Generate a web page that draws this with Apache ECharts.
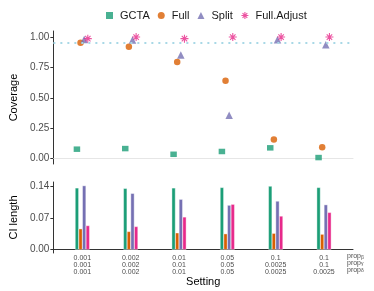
<!DOCTYPE html>
<html><head><meta charset="utf-8">
<script src="https://cdn.jsdelivr.net/npm/echarts@6/dist/echarts.min.js"></script>
<style>html,body{margin:0;padding:0;background:#fff}#c{width:374px;height:291px}</style>
</head><body><div id="c"></div>
<script>
// ---- data ----
const settings = [1, 2, 3, 4, 5, 6];
const propBeta  = ['0.001', '0.002', '0.01', '0.05', '0.1', '0.1'];
const propGamma = ['0.001', '0.002', '0.01', '0.05', '0.0025', '0.1'];
const propDelta = ['0.001', '0.002', '0.01', '0.05', '0.0025', '0.0025'];
const methods = ['GCTA', 'Full', 'Split', 'Full.Adjust'];
const coverageGCTA  = [0.077, 0.082, 0.035, 0.058, 0.088, 0.008];
const coverageFull  = [0.954, 0.921, 0.794, 0.640, 0.157, 0.093];
const coverageSplit = [0.981, 0.975, 0.852, 0.357, 0.978, 0.937];
const coverageFullAdjust = [0.987, 1.000, 0.987, 1.000, 1.000, 1.000];
const ciGCTA  = [0.136, 0.135, 0.136, 0.137, 0.140, 0.137];
const ciFull  = [0.046, 0.040, 0.037, 0.035, 0.036, 0.034];
const ciSplit = [0.141, 0.124, 0.111, 0.098, 0.107, 0.099];
const ciFullAdjust = [0.053, 0.051, 0.072, 0.100, 0.074, 0.082];
const nominal = 0.95;
const coverageTicks = [0, 0.25, 0.5, 0.75, 1];
const ciTicks = [0, 0.07, 0.14];

const colors = ['#1B9E77', '#D95F02', '#7570B3', '#E7298A'];
const starPath = 'path://M5,0L5,10M0,5L10,5M1.6,1.6L8.4,8.4M1.6,8.4L8.4,1.6';
const dodgeWidth = 0.3;
const offsets = methods.map((m, i) => -dodgeWidth / 2 + dodgeWidth / 8 + i * dodgeWidth / 4);
const covData = [coverageGCTA, coverageFull, coverageSplit, coverageFullAdjust];
const ciData = [ciGCTA, ciFull, ciSplit, ciFullAdjust];
const symbols = ['rect', 'circle', 'triangle', starPath];
const symSizes = [[6.5, 5.5], 6.5, 7.5, 8];

const axisDark = '#333333';
const labGrey = '#4d4d4d';

const series = [];
methods.forEach((m, i) => {
  const isStar = i === 3;
  series.push({
    name: m, type: 'scatter', xAxisIndex: 0, yAxisIndex: 0,
    symbol: symbols[i], symbolSize: symSizes[i],
    itemStyle: isStar ? {color: 'rgba(0,0,0,0)', borderColor: colors[i], borderWidth: 1.1} : {color: colors[i]},
    data: settings.map((s, k) => [s + offsets[i], covData[i][k]]),
    z: 3,
    markLine: i === 0 ? {
      silent: true, symbol: 'none', label: {show: false},
      lineStyle: {color: '#a8d8e6', type: [2, 5], width: 2.2, cap: 'butt'},
      data: [{yAxis: nominal}]
    } : undefined
  });
});
methods.forEach((m, i) => {
  series.push({
    name: m, type: 'bar', xAxisIndex: 1, yAxisIndex: 1,
    barWidth: 3.7, barGap: '-100%',
    itemStyle: {color: colors[i], borderColor: '#ffffff', borderWidth: 0.4},
    data: settings.map((s, k) => [s + offsets[i], ciData[i][k]])
  });
});

const chart = echarts.init(document.getElementById('c'), null, {renderer: 'canvas'});
chart.setOption({
  animation: false,
  textStyle: {fontFamily: 'Liberation Sans, Arial, sans-serif'},
  legend: {
    top: 10, left: 106, itemWidth: 7, itemHeight: 7, itemGap: 8, padding: 0,
    textStyle: {fontSize: 11, color: '#1a1a1a', padding: [0, 0, 0, 2]},
    data: [
      {name: 'GCTA', icon: 'rect', itemStyle: {color: colors[0]}},
      {name: 'Full', icon: 'circle', itemStyle: {color: colors[1]}},
      {name: 'Split', icon: 'triangle', itemStyle: {color: colors[2]}},
      {name: 'Full.Adjust', icon: starPath, itemStyle: {color: 'rgba(0,0,0,0)', borderColor: colors[3], borderWidth: 1.1}}
    ]
  },
  grid: [
    {left: 48, right: 21, top: 31, height: 133},
    {left: 48, right: 21, top: 182, height: 71}
  ],
  xAxis: [
    {type: 'value', gridIndex: 0, min: 0.4, max: 6.6,
     axisLine: {show: true, lineStyle: {color: '#e6e6e6', width: 1}},
     axisTick: {show: false}, axisLabel: {show: false}, splitLine: {show: false}},
    {type: 'value', gridIndex: 1, min: 0.4, max: 6.6,
     name: 'Setting', nameLocation: 'middle', nameGap: 18,
     nameTextStyle: {fontSize: 11, color: '#000'},
     axisLine: {show: true, lineStyle: {color: axisDark, width: 1}},
     axisTick: {show: false},
     axisLabel: {show: true, customValues: settings, margin: 2, fontSize: 7, lineHeight: 6.7, color: labGrey,
       formatter: v => { const k = Math.round(v) - 1; return propBeta[k] + '\n' + propGamma[k] + '\n' + propDelta[k]; }},
     splitLine: {show: false}}
  ],
  yAxis: [
    {type: 'value', gridIndex: 0, min: -0.045, max: 1.05,
     name: 'Coverage', nameLocation: 'middle', nameGap: 27, nameRotate: 90,
     nameTextStyle: {fontSize: 11, color: '#000'},
     axisLine: {show: true, lineStyle: {color: axisDark, width: 1}},
     axisTick: {show: true, customValues: coverageTicks, length: 3, lineStyle: {color: axisDark}},
     axisLabel: {customValues: coverageTicks, fontSize: 10, color: labGrey, margin: 4, formatter: v => v.toFixed(2)},
     splitLine: {show: false}},
    {type: 'value', gridIndex: 1, min: -0.0075, max: 0.149,
     name: 'CI length', nameLocation: 'middle', nameGap: 27, nameRotate: 90,
     nameTextStyle: {fontSize: 11, color: '#000'},
     axisLine: {show: true, lineStyle: {color: axisDark, width: 1}},
     axisTick: {show: true, customValues: ciTicks, length: 3, lineStyle: {color: axisDark}},
     axisLabel: {customValues: ciTicks, fontSize: 10, color: labGrey, margin: 4, formatter: v => v.toFixed(2)},
     splitLine: {show: false}}
  ],
  graphic: [
    {type: 'text', left: 347, top: 253, silent: true,
     style: {text: '{a|prop}{b|β}\n{a|prop}{b|γ}\n{a|prop}{b|δ}', fill: labGrey,
       rich: {a: {fontSize: 7, lineHeight: 6.7, fill: labGrey}, b: {fontSize: 5, lineHeight: 6.7, verticalAlign: 'bottom', fill: labGrey}}}}
  ],
  series: series
});
</script>
</body></html>
